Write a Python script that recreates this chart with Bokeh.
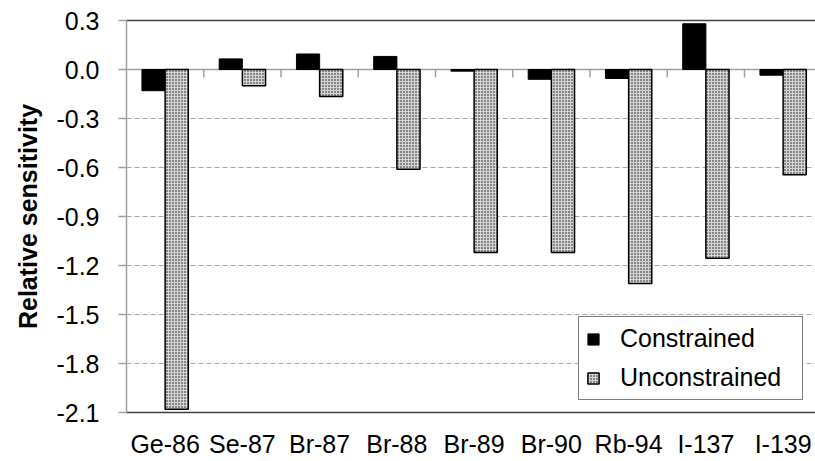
from bokeh.plotting import figure
from bokeh.models import (ColumnDataSource, FixedTicker, LinearAxis, Span, Legend,
                          LegendItem, Range1d)
from bokeh.embed import file_html
from bokeh.resources import INLINE

# ---- data ----
categories = ["Ge-86", "Se-87", "Br-87", "Br-88", "Br-89", "Br-90", "Rb-94", "I-137", "I-139"]
constrained = [-0.13, 0.065, 0.095, 0.08, -0.01, -0.06, -0.055, 0.28, -0.035]
unconstrained = [-2.08, -0.10, -0.165, -0.61, -1.12, -1.12, -1.31, -1.155, -0.645]
y_ticks = [0.3, 0.0, -0.3, -0.6, -0.9, -1.2, -1.5, -1.8, -2.1]
y_tick_labels = ["0.3", "0.0", "-0.3", "-0.6", "-0.9", "-1.2", "-1.5", "-1.8", "-2.1"]

FONT = "Liberation Sans"
W, H = 815, 461
BL, BR, BT, BB = 126, 0, 20, 49
frame_w = W - BL - BR
frame_h = H - BT - BB
cat_px = 77.25
x_end = frame_w / cat_px
y_lo, y_hi = -2.1, 0.3

n = len(categories)
centers = [i + 0.5 for i in range(n)]
bw = 0.3
src = ColumnDataSource(dict(
    xc=[c - bw / 2 for c in centers],
    xu=[c + bw / 2 for c in centers],
    con=constrained,
    unc=unconstrained,
))

p = figure(width=W, height=H, output_backend="svg", toolbar_location=None,
           x_range=Range1d(0, x_end), y_range=Range1d(y_lo, y_hi),
           min_border_left=BL, min_border_right=BR, min_border_top=BT,
           min_border_bottom=BB, x_axis_location=None, y_axis_location=None)
p.outline_line_color = None
p.background_fill_color = "white"
p.xgrid.visible = False

# grid (dashed), excluding zero and borders
p.ygrid.ticker = FixedTicker(ticks=[t for t in y_ticks if t not in (0.0, y_lo, y_hi)])
p.ygrid.grid_line_color = "#a6a6a6"
p.ygrid.grid_line_dash = "5 3"
p.ygrid.grid_line_width = 1.2

# zero line (category axis)
p.add_layout(Span(location=0, dimension="width", line_color="#a0a0a0",
                  line_width=1.5, level="underlay"))
tick_len = 8 * (y_hi - y_lo) / frame_h
bounds = list(range(1, n))
p.segment(x0=bounds, x1=bounds, y0=[0] * len(bounds), y1=[-tick_len] * len(bounds),
          line_color="#a0a0a0", line_width=1.5)

r_con = p.vbar(x="xc", width=bw, top="con", bottom=0, source=src,
               fill_color="black", line_color="black", line_width=1)
r_unc = p.vbar(x="xu", width=bw, top=0, bottom="unc", source=src,
               fill_color="#d4d4d4", line_color="black", line_width=1.5,
               hatch_pattern="dot", hatch_color="#111111", hatch_scale=3,
               hatch_weight=1.2)

# left axis
yax = LinearAxis(ticker=FixedTicker(ticks=y_ticks),
                 major_label_overrides={t: l for t, l in zip(y_ticks, y_tick_labels)})
yax.axis_label = "Relative sensitivity"
yax.axis_label_text_font = FONT
yax.axis_label_text_font_style = "bold"
yax.axis_label_text_font_size = "25px"
yax.axis_label_text_color = "black"
yax.axis_label_standoff = 11
yax.major_label_text_font = FONT
yax.major_label_text_font_size = "25px"
yax.major_label_text_color = "black"
yax.major_label_standoff = 19
yax.axis_line_color = "#a0a0a0"
yax.axis_line_width = 1.5
yax.major_tick_line_color = "#a0a0a0"
yax.major_tick_line_width = 1.5
yax.major_tick_out = 8
yax.major_tick_in = 0
yax.minor_tick_line_color = None
p.add_layout(yax, "left")

# bottom axis (category labels)
xax = LinearAxis(ticker=FixedTicker(ticks=centers),
                 major_label_overrides={c: l for c, l in zip(centers, categories)})
xax.major_label_text_font = FONT
xax.major_label_text_font_size = "25px"
xax.major_label_text_color = "black"
xax.major_label_standoff = 11
xax.axis_line_color = "#404040"
xax.axis_line_width = 1.5
xax.major_tick_line_color = None
xax.minor_tick_line_color = None
p.add_layout(xax, "below")

# top border
tax = LinearAxis(ticker=FixedTicker(ticks=[]))
tax.axis_line_color = "#404040"
tax.axis_line_width = 1.5
tax.major_tick_line_color = None
tax.minor_tick_line_color = None
tax.major_label_text_font_size = "0px"
tax.major_tick_out = 0
tax.major_label_standoff = 0
p.add_layout(tax, "above")

legend = Legend(items=[LegendItem(label="Constrained", renderers=[r_con]),
                       LegendItem(label="Unconstrained", renderers=[r_unc])],
                location=(452, 12))
legend.label_text_font = FONT
legend.label_text_font_size = "25px"
legend.label_text_color = "black"
legend.glyph_width = 14
legend.glyph_height = 14
legend.label_standoff = 20
legend.label_height = 28
legend.label_width = 175
legend.spacing = 10
legend.padding = 7
legend.margin = 0
legend.border_line_color = "black"
legend.border_line_width = 1.5
legend.background_fill_color = "white"
legend.background_fill_alpha = 1.0
p.add_layout(legend, "center")

open("out.html", "w").write(file_html(p, INLINE))
